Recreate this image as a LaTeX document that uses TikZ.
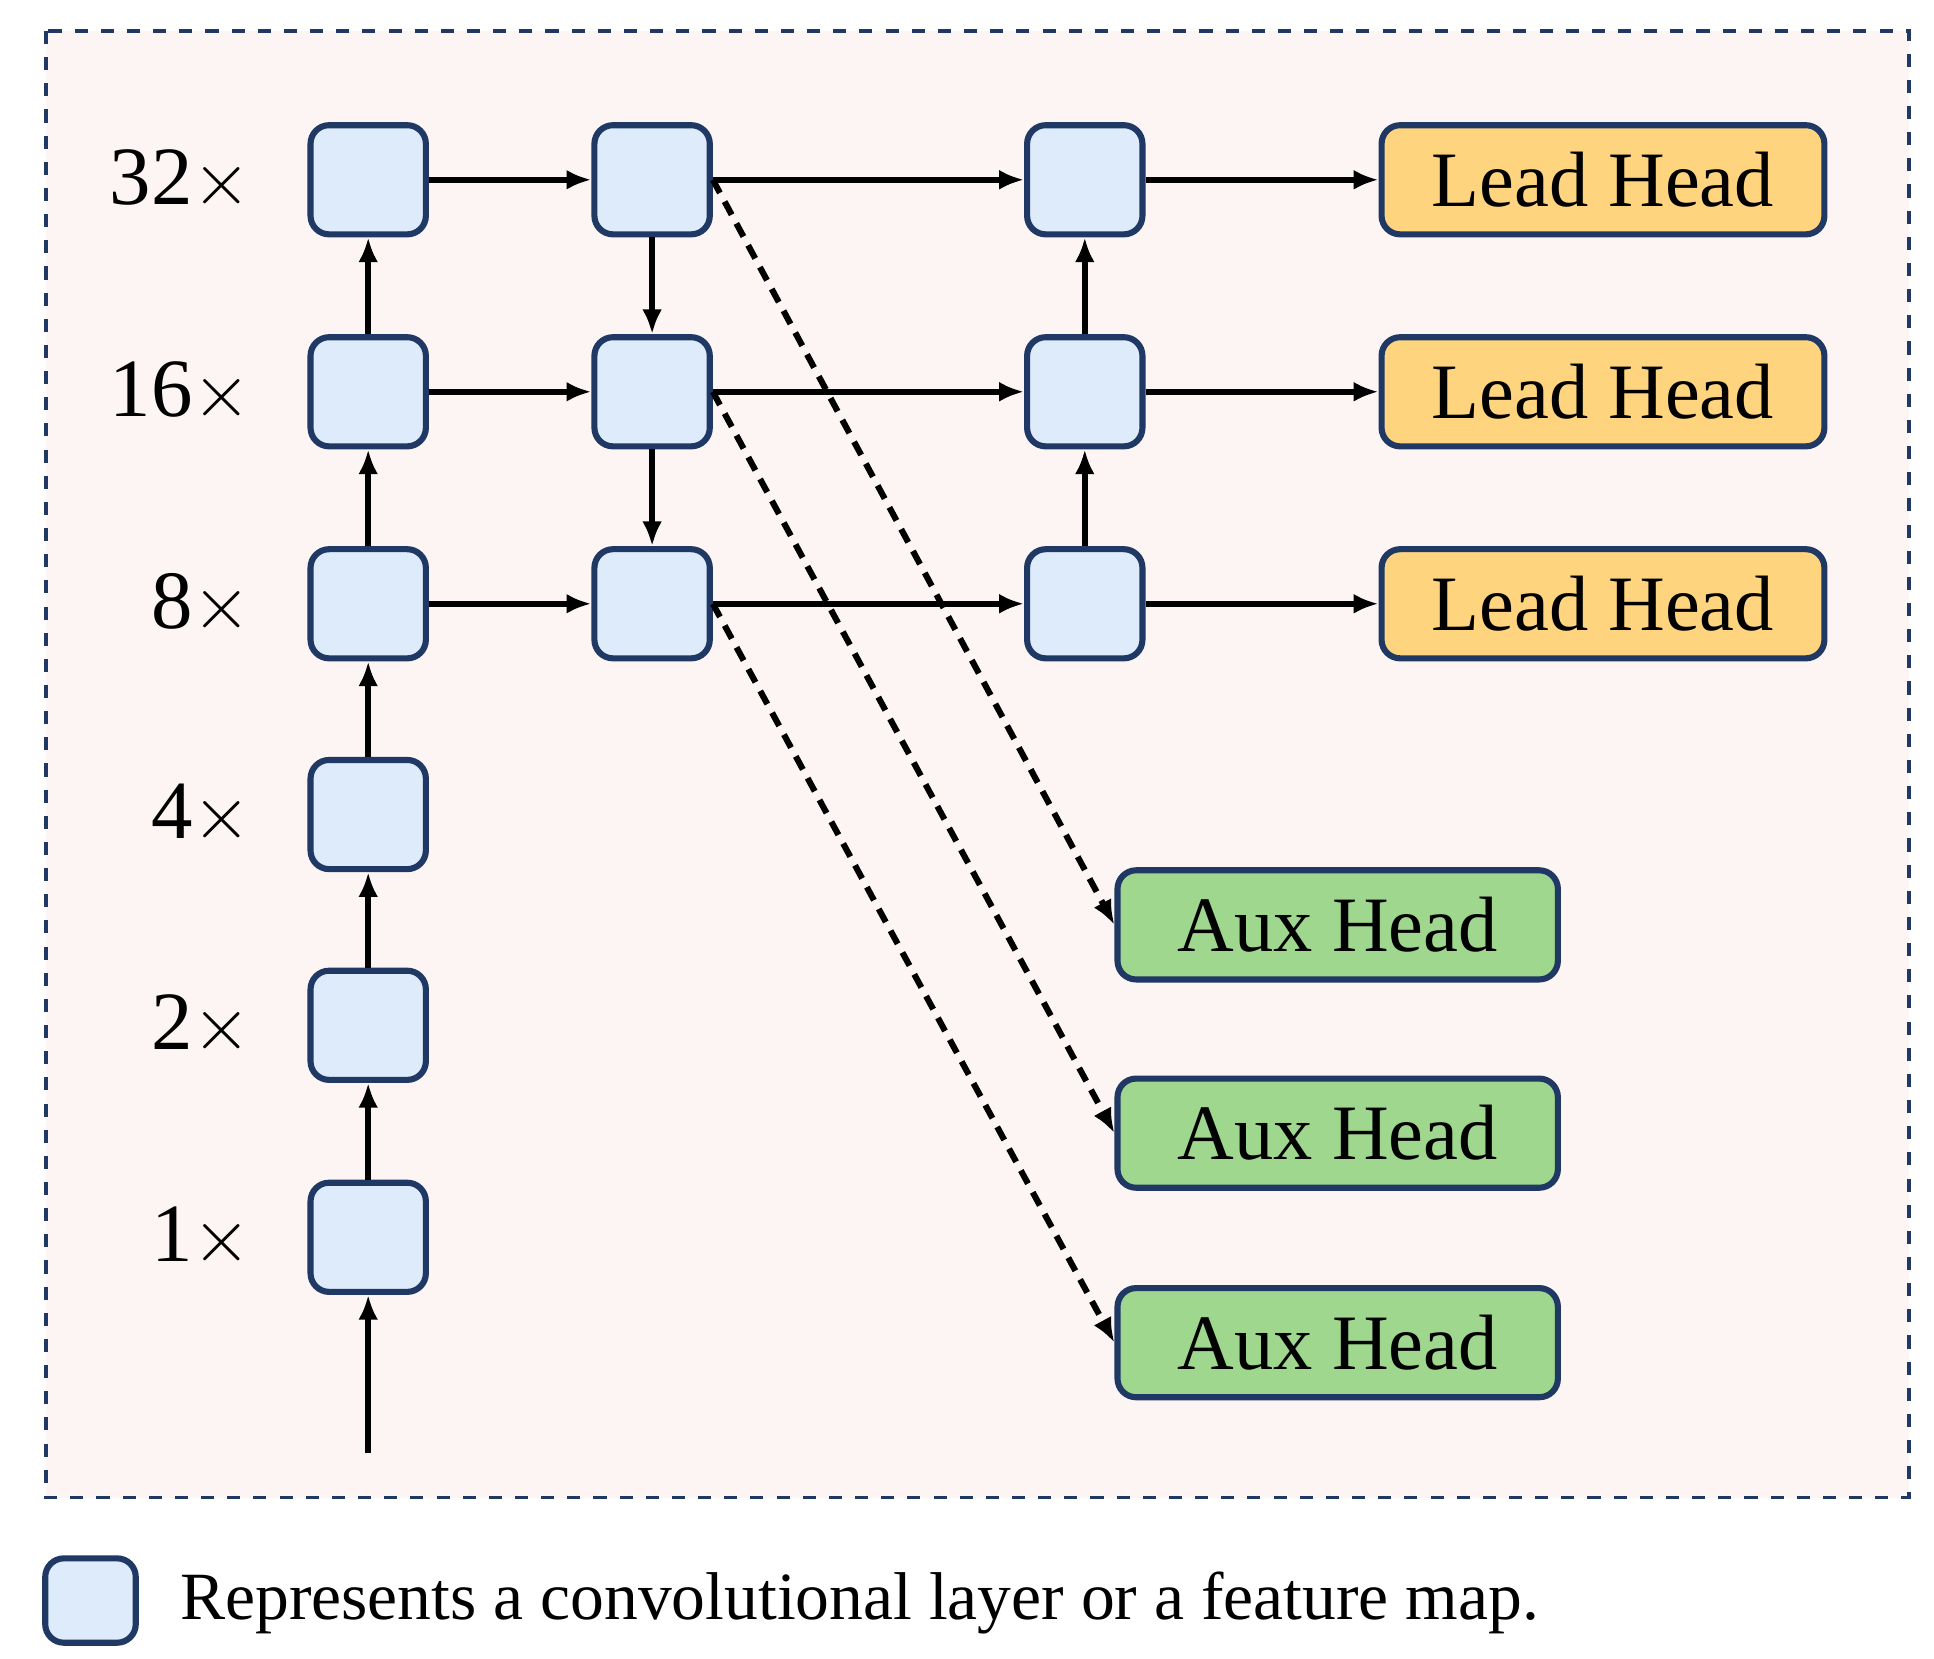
\documentclass[tikz,border=0pt]{standalone}
\usepackage{fontspec}
\setmainfont{Liberation Serif}
\usetikzlibrary{arrows.meta}
\definecolor{bgc}{HTML}{FDF5F4}
\definecolor{boxc}{HTML}{DDEBFB}
\definecolor{edge}{HTML}{1F3864}
\definecolor{leadc}{HTML}{FFD47F}
\definecolor{auxc}{HTML}{9ED78D}
\begin{document}
\begin{tikzpicture}[x=0.01cm,y=-0.01cm,
  fm/.style={draw=edge,line width=1.4pt,fill=boxc,rounded corners=0.15cm,minimum width=0.93cm,minimum height=0.88cm,inner sep=0pt},
  lead/.style={draw=edge,line width=1.4pt,fill=leadc,rounded corners=0.15cm,minimum width=3.57cm,minimum height=0.88cm,font=\fontsize{18}{20}\selectfont},
  aux/.style={draw=edge,line width=1.4pt,fill=auxc,rounded corners=0.15cm,minimum width=3.55cm,minimum height=0.88cm,font=\fontsize{18}{20}\selectfont},
  lab/.style={anchor=east,font=\fontsize{19}{21}\selectfont},
  ar/.style={line width=1.4pt,-{Latex[length=0.2cm,width=0.16cm]}},
  da/.style={ar,dashed,dash pattern=on 0.12cm off 0.08cm}]
\useasboundingbox (0,0) rectangle (1560,1338);
\draw[edge,dashed,fill=bgc,line width=0.8pt] (37,25) rectangle (1540,1208);
% column 1
\foreach \n/\y/\t in {1/998/1,2/827/2,3/657/4,4/487/8,5/316/16,6/145/32}{
  \node[fm] (a\n) at (297,\y) {};
  \node[lab] (l\n) at (215,\y) {\t$\times$};
}
\node[fm] (b1) at (526,487) {};
\node[fm] (b2) at (526,316) {};
\node[fm] (b3) at (526,145) {};
\node[fm] (c1) at (875,487) {};
\node[fm] (c2) at (875,316) {};
\node[fm] (c3) at (875,145) {};
\node[lead] (h1) at (1293,487) {Lead Head};
\node[lead] (h2) at (1293,316) {Lead Head};
\node[lead] (h3) at (1293,145) {Lead Head};
\node[aux] (x1) at (1079,746) {Aux Head};
\node[aux] (x2) at (1079,914) {Aux Head};
\node[aux] (x3) at (1079,1083) {Aux Head};
\coordinate (in) at (297,1172);
\draw[ar] (in) -- (a1);
\draw[ar] (a1) -- (a2);
\draw[ar] (a2) -- (a3);
\draw[ar] (a3) -- (a4);
\draw[ar] (a4) -- (a5);
\draw[ar] (a5) -- (a6);
\draw[ar] (a4) -- (b1);
\draw[ar] (a5) -- (b2);
\draw[ar] (a6) -- (b3);
\draw[ar] (b3) -- (b2);
\draw[ar] (b2) -- (b1);
\draw[ar] (b1) -- (c1);
\draw[ar] (b2) -- (c2);
\draw[ar] (b3) -- (c3);
\draw[ar] (c1) -- (c2);
\draw[ar] (c2) -- (c3);
\draw[ar] (c1) -- (h1);
\draw[ar] (c2) -- (h2);
\draw[ar] (c3) -- (h3);
\draw[da] (b3.east) -- (x1.west);
\draw[da] (b2.east) -- (x2.west);
\draw[da] (b1.east) -- (x3.west);
% legend
\node[fm,minimum width=0.73cm,minimum height=0.68cm] (leg) at (73,1291) {};
\node[anchor=west,font=\fontsize{15.5}{18}\selectfont] (legt) at (133,1293) {Represents a convolutional layer or a feature map.};
\end{tikzpicture}
\end{document}
